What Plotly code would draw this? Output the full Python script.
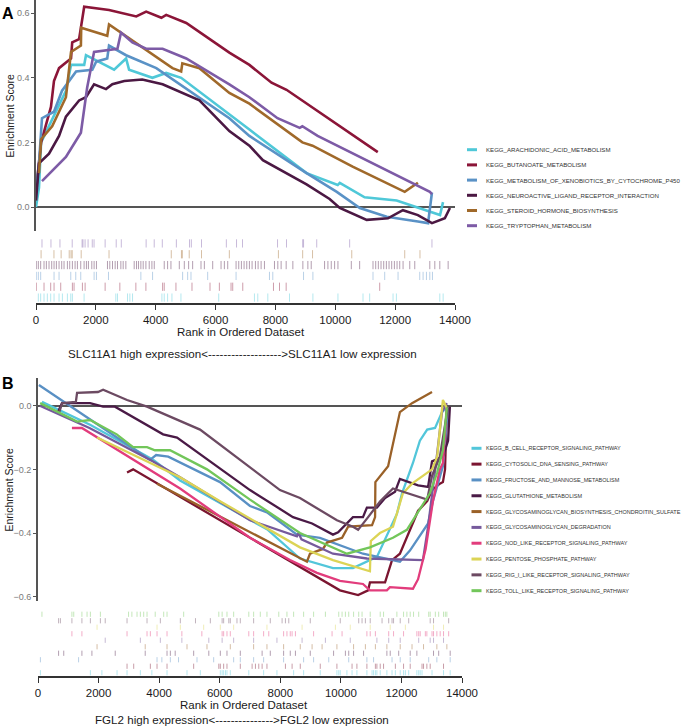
import plotly.graph_objects as go

W, H = 685, 727
FONT = "Liberation Sans, Arial, sans-serif"

def fx(px):
    return px / W

def fy(py):
    return 1 - py / H

# ---------------- Panel A data ----------------
A_names = ["KEGG_ARACHIDONIC_ACID_METABOLISM", "KEGG_BUTANOATE_METABOLISM",
           "KEGG_METABOLISM_OF_XENOBIOTICS_BY_CYTOCHROME_P450",
           "KEGG_NEUROACTIVE_LIGAND_RECEPTOR_INTERACTION",
           "KEGG_STEROID_HORMONE_BIOSYNTHESIS", "KEGG_TRYPTOPHAN_METABOLISM"]
A_colors = ["#4fc8d8", "#8b1538", "#5a92c6", "#4b1843", "#a0692a", "#7d5ba6"]

A_arach_x = [0, 100, 170, 700, 1000, 1170, 1610, 1670, 2210, 2610, 3010, 3110, 3890, 4350, 4850, 6460, 7130, 9040, 10080, 10150, 10980, 12050, 12990, 13500, 13600]
A_arach_y = [0.0, 0.06, 0.2, 0.3, 0.36, 0.44, 0.44, 0.47, 0.445, 0.425, 0.46, 0.425, 0.40, 0.415, 0.40, 0.285, 0.24, 0.105, 0.068, 0.075, 0.03, 0.02, -0.01, -0.025, 0.015]
A_butan_x = [0, 170, 500, 600, 770, 1170, 1210, 1440, 1610, 2440, 3350, 3680, 4190, 4350, 5020, 6460, 7130, 7870, 8370, 11420]
A_butan_y = [0.05, 0.2, 0.31, 0.39, 0.43, 0.46, 0.51, 0.52, 0.62, 0.61, 0.59, 0.605, 0.586, 0.595, 0.57, 0.478, 0.44, 0.385, 0.363, 0.17]
A_xeno_x = [0, 100, 200, 600, 870, 1340, 1880, 2010, 2380, 2440, 3010, 4020, 6460, 7130, 9040, 10050, 10820, 11720, 12760, 13100, 13230]
A_xeno_y = [0.05, 0.135, 0.275, 0.295, 0.36, 0.42, 0.425, 0.45, 0.46, 0.50, 0.47, 0.43, 0.275, 0.22, 0.105, 0.047, -0.003, -0.03, -0.045, -0.05, 0.045]
A_neuro_x = [0, 100, 435, 770, 1000, 1440, 1670, 1940, 2340, 2550, 2950, 3550, 4230, 5460, 6460, 7130, 7580, 9040, 9810, 10150, 11050, 11760, 12260, 12760, 13230, 13660, 13830]
A_neuro_y = [0.02, 0.135, 0.165, 0.22, 0.28, 0.33, 0.34, 0.38, 0.365, 0.38, 0.39, 0.395, 0.38, 0.33, 0.235, 0.19, 0.145, 0.07, 0.025, -0.003, -0.04, -0.035, -0.01, -0.025, -0.05, -0.035, -0.003]
A_ster_x = [100, 170, 540, 1000, 1170, 1500, 1510, 2380, 2440, 3450, 4560, 4850, 4890, 5460, 6460, 7130, 8900, 9240, 10580, 12320, 12760]
A_ster_y = [0.105, 0.21, 0.25, 0.34, 0.48, 0.50, 0.555, 0.53, 0.565, 0.50, 0.43, 0.42, 0.445, 0.43, 0.353, 0.32, 0.20, 0.19, 0.125, 0.047, 0.075]
A_tryp_x = [200, 1000, 1500, 1710, 1940, 2720, 2840, 3220, 3680, 4230, 5020, 6460, 7130, 8070, 8810, 8900, 9410, 13160, 13230]
A_tryp_y = [0.08, 0.155, 0.23, 0.37, 0.48, 0.49, 0.54, 0.51, 0.49, 0.49, 0.46, 0.38, 0.34, 0.275, 0.245, 0.25, 0.22, 0.047, 0.04]

A_hits_arach = [78, 156, 268, 379, 491, 603, 770, 882, 1049, 1161, 1216, 1607, 2667, 2723, 3058, 3136, 3225, 4207, 4285, 4397, 4542, 4843, 6105, 7299, 7410, 7745, 8470, 9252, 10089, 10926, 11149, 11930, 12042, 13492, 13604]
A_hits_butan = [10, 268, 491, 603, 826, 1216, 1272, 1551, 1641, 2310, 2801, 3337, 3672, 4230, 4285, 4676, 5212, 5814, 6127, 6517, 6573, 6908, 7935, 8136, 8359, 11484]
A_hits_xeno = [10, 78, 156, 603, 770, 1161, 1328, 1495, 1942, 2020, 2422, 3504, 3895, 4899, 5067, 5178, 5736, 6685, 7801, 7912, 8939, 9252, 11260, 11651, 12097, 12822, 12934, 13046, 13158, 13247]
A_hits_neuro = [10, 78, 156, 268, 346, 435, 525, 603, 681, 770, 859, 937, 1049, 1127, 1216, 1306, 1384, 1495, 1607, 1685, 1752, 1864, 1942, 2020, 2388, 2466, 2556, 2645, 2723, 2835, 2913, 3002, 3281, 3359, 3426, 3504, 3582, 3672, 3783, 3873, 3951, 4285, 4397, 4509, 4788, 4955, 5100, 5234, 5513, 5625, 5904, 6183, 6294, 6406, 6685, 6774, 6863, 6953, 7042, 7131, 7220, 7332, 7421, 7522, 7633, 7968, 8080, 8191, 8359, 8582, 8917, 9084, 9196, 9642, 9754, 9865, 9977, 10089, 10535, 10814, 11260, 11350, 11439, 11528, 11618, 11707, 11796, 11885, 11975, 12064, 12153, 12265, 12488, 12655, 13158, 13325, 13492, 13771]
A_hits_ster = [170, 600, 840, 1110, 1170, 1210, 1510, 2440, 4520, 4860, 4890, 5120, 5530, 6460, 8100, 8910, 9240, 10550, 12320, 12830]
A_hits_tryp = [200, 500, 800, 1210, 1540, 1570, 1640, 1740, 1880, 1940, 2310, 2680, 2850, 3680, 3950, 4220, 4690, 5130, 5190, 5530, 6360, 6700, 6900, 8070, 8370, 8910, 8940, 9380, 10480, 13230]

# ---------------- Panel B data ----------------
B_names = ["KEGG_B_CELL_RECEPTOR_SIGNALING_PATHWAY", "KEGG_CYTOSOLIC_DNA_SENSING_PATHWAY",
           "KEGG_FRUCTOSE_AND_MANNOSE_METABOLISM", "KEGG_GLUTATHIONE_METABOLISM",
           "KEGG_GLYCOSAMINOGLYCAN_BIOSYNTHESIS_CHONDROITIN_SULFATE",
           "KEGG_GLYCOSAMINOGLYCAN_DEGRADATION", "KEGG_NOD_LIKE_RECEPTOR_SIGNALING_PATHWAY",
           "KEGG_PENTOSE_PHOSPHATE_PATHWAY", "KEGG_RIG_I_LIKE_RECEPTOR_SIGNALING_PATHWAY",
           "KEGG_TOLL_LIKE_RECEPTOR_SIGNALING_PATHWAY"]
B_colors = ["#52c6da", "#7b1530", "#5990c4", "#4a1a46", "#9a6128",
            "#765a9c", "#e23c7c", "#dcd455", "#6c4a62", "#72c65a"]

B_bcell_x = [130, 1720, 3800, 4690, 7590, 8650, 9740, 10400, 11190, 11560, 11850, 12020, 12380, 12610, 12850, 13110, 13340, 13500]
B_bcell_y = [0.012, -0.06, -0.17, -0.235, -0.39, -0.48, -0.51, -0.51, -0.475, -0.40, -0.34, -0.275, -0.18, -0.11, -0.075, -0.07, -0.02, -0.005]
B_cyto_x = [2940, 3140, 9970, 10570, 10900, 10960, 11460, 11690, 11950, 12550, 12850, 13010, 13270, 13370, 13440, 13500]
B_cyto_y = [-0.21, -0.2, -0.58, -0.595, -0.58, -0.555, -0.555, -0.485, -0.465, -0.33, -0.30, -0.265, -0.245, -0.24, -0.2, -0.005]
B_fruc_x = [30, 3700, 3900, 4300, 6010, 7000, 7560, 8550, 9310, 10730, 11950, 12280, 12880, 13040, 13370, 13540]
B_fruc_y = [0.065, -0.17, -0.155, -0.16, -0.24, -0.315, -0.335, -0.405, -0.415, -0.465, -0.49, -0.455, -0.37, -0.30, -0.19, -0.005]
B_glut_x = [660, 790, 1720, 2150, 2540, 4130, 4590, 7000, 8420, 9050, 9740, 9910, 10400, 10730, 10860, 11190, 11460, 11790, 11950, 12550, 12880, 13010, 13370, 13540, 13600]
B_glut_y = [-0.02, 0.008, 0.008, -0.003, -0.003, -0.09, -0.1, -0.265, -0.35, -0.37, -0.405, -0.398, -0.35, -0.35, -0.32, -0.32, -0.29, -0.27, -0.23, -0.25, -0.255, -0.175, -0.16, -0.11, -0.003]
B_chond_x = [3930, 8880, 8980, 9410, 9540, 10040, 10240, 11030, 11130, 11140, 11560, 11950, 12350, 13010]
B_chond_y = [-0.245, -0.49, -0.465, -0.45, -0.43, -0.415, -0.38, -0.375, -0.35, -0.24, -0.19, -0.02, 0.008, 0.043]
B_degr_x = [60, 1700, 3800, 4690, 7000, 8550, 8600, 8700, 9740, 10860, 12710, 12880, 13180, 13340, 13500]
B_degr_y = [0.0, -0.07, -0.175, -0.225, -0.36, -0.41, -0.40, -0.42, -0.465, -0.48, -0.485, -0.38, -0.15, -0.02, 0.008]
B_nod_x = [1120, 1450, 4690, 7000, 8320, 9210, 9970, 10730, 10960, 11520, 11620, 12380, 12550, 12800, 13040, 13270, 13370, 13500]
B_nod_y = [-0.07, -0.07, -0.26, -0.415, -0.485, -0.525, -0.55, -0.56, -0.58, -0.58, -0.57, -0.575, -0.545, -0.45, -0.30, -0.2, -0.18, -0.005]
B_pent_x = [1950, 4690, 6010, 7000, 7660, 8650, 9740, 10960, 10990, 11290, 11720, 12050, 12350, 13010, 13180, 13340, 13370, 13500]
B_pent_y = [-0.1, -0.225, -0.3, -0.355, -0.39, -0.445, -0.485, -0.52, -0.425, -0.40, -0.38, -0.275, -0.245, -0.2, -0.16, 0.008, 0.018, -0.008]
B_rig_x = [700, 800, 1250, 1290, 1980, 2150, 2940, 3600, 5350, 7000, 7990, 8650, 9870, 10400, 10570, 10900, 11300, 11720, 12850, 13010, 13270, 13500, 13540]
B_rig_y = [-0.02, 0.008, 0.012, 0.04, 0.043, 0.05, 0.018, -0.003, -0.075, -0.195, -0.265, -0.29, -0.36, -0.38, -0.39, -0.35, -0.3, -0.26, -0.295, -0.22, -0.16, -0.025, -0.005]
B_toll_x = [70, 1290, 1720, 2600, 3140, 3600, 3860, 4360, 5580, 7000, 8650, 9740, 10200, 10960, 11720, 12180, 12450, 12940, 13180, 13370, 13500]
B_toll_y = [0.008, -0.05, -0.045, -0.09, -0.13, -0.13, -0.14, -0.14, -0.2, -0.295, -0.40, -0.445, -0.465, -0.445, -0.415, -0.39, -0.35, -0.275, -0.21, -0.14, -0.005]

B_hits_bcell = [80, 1730, 2110, 2610, 2940, 3380, 3760, 4260, 4920, 5360, 6020, 6080, 6130, 6190, 6240, 6350, 6960, 7450, 7890, 8440, 8770, 9320, 9870, 9930, 9980, 10200, 10370, 10530, 10860, 11030, 11080, 11140, 11190, 11300, 11520, 11690, 11800, 11960, 12070, 12130, 12240, 12510, 12570, 12620, 12680, 13010, 13390, 13610]
B_hits_cyto = [2940, 3160, 3710, 3930, 4260, 5140, 5970, 6020, 6130, 6240, 6680, 7070, 7180, 7290, 7400, 7560, 8170, 8390, 8660, 9320, 9870, 10370, 10530, 10860, 11140, 11190, 11300, 11410, 11800, 12070, 12290, 12680, 12730, 12840, 12950, 13390]
B_hits_fruc = [80, 1340, 3930, 4090, 4370, 4640, 5250, 5800, 6460, 6680, 7120, 7450, 8110, 8770, 9100, 9600, 10260, 10860, 11080, 11690, 11960, 12290, 12900, 13170, 13610]
B_hits_glut = [680, 850, 1450, 1780, 2550, 3540, 4260, 4370, 4530, 5140, 5640, 6020, 6240, 6680, 7400, 7670, 8110, 8330, 8500, 8990, 9760, 10150, 10260, 10420, 10750, 11520, 11630, 11910, 12290, 12510, 13060, 13230, 13610]
B_hits_chond = [1950, 3540, 4260, 4920, 5580, 6350, 7120, 7560, 8110, 8660, 9050, 9380, 9870, 10420, 10810, 11140, 11520, 11960, 12350, 12730, 13170, 13500]
B_hits_degr = [2220, 3380, 4040, 4750, 5640, 6080, 6460, 7120, 7890, 8720, 9490, 10310, 11190, 11580, 11960, 12570, 12950, 13060, 13390]
B_hits_nod = [1120, 1450, 2940, 3600, 3710, 3930, 4260, 4750, 5410, 6080, 6130, 6240, 6350, 6960, 7120, 7450, 7620, 8110, 8220, 8330, 8390, 8500, 9100, 9710, 10040, 10860, 10970, 11140, 11580, 11740, 12070, 12510, 12570, 12620, 12790, 12840, 13010, 13060, 13170, 13280, 13390, 13560]
B_hits_pent = [1950, 3930, 4700, 5470, 6020, 6460, 7560, 8720, 9820, 10310, 10970, 11630, 12130, 13060, 13390]
B_hits_rig = [680, 740, 1120, 1450, 1730, 2060, 2220, 2940, 3600, 4040, 4700, 5200, 5690, 6080, 6130, 6300, 6350, 6570, 6680, 7120, 7670, 8060, 8170, 8280, 8990, 9980, 10590, 10700, 10810, 10970, 11360, 11580, 11690, 11740, 11960, 12240, 12950, 13060, 13560]
B_hits_toll = [130, 1120, 1180, 1450, 1620, 1730, 2060, 2990, 3100, 3270, 3380, 3490, 3600, 3870, 4150, 4260, 4810, 5970, 6080, 6240, 6460, 6960, 7120, 7340, 7560, 7950, 8220, 8440, 8770, 9100, 9490, 9930, 10040, 10150, 10260, 10420, 10590, 10700, 10970, 11300, 11410, 11850, 12070, 12180, 12290, 12400, 12570, 12900, 12950, 13120, 13230, 13390, 13450, 13500]

x_ticks = [0, 2000, 4000, 6000, 8000, 10000, 12000, 14000]
A_yticks = [0.0, 0.2, 0.4, 0.6]
B_yticks = [0.0, -0.2, -0.4, -0.6]

A_subtitle = "SLC11A1 high expression&lt;" + "-" * 19 + "&gt;SLC11A1 low expression"
B_subtitle = "FGL2 high expression&lt;" + "-" * 15 + "&gt;FGL2 low expression"

A_curves = [(A_arach_x, A_arach_y), (A_butan_x, A_butan_y), (A_xeno_x, A_xeno_y),
            (A_neuro_x, A_neuro_y), (A_ster_x, A_ster_y), (A_tryp_x, A_tryp_y)]
A_hits = [A_hits_arach, A_hits_butan, A_hits_xeno, A_hits_neuro, A_hits_ster, A_hits_tryp]
B_curves = [(B_bcell_x, B_bcell_y), (B_cyto_x, B_cyto_y), (B_fruc_x, B_fruc_y),
            (B_glut_x, B_glut_y), (B_chond_x, B_chond_y), (B_degr_x, B_degr_y),
            (B_nod_x, B_nod_y), (B_pent_x, B_pent_y), (B_rig_x, B_rig_y), (B_toll_x, B_toll_y)]
B_hits = [B_hits_bcell, B_hits_cyto, B_hits_fruc, B_hits_glut, B_hits_chond,
          B_hits_degr, B_hits_nod, B_hits_pent, B_hits_rig, B_hits_toll]


def rgba(hexc, a):
    h = hexc.lstrip("#")
    return "rgba(%d,%d,%d,%.2f)" % (int(h[0:2], 16), int(h[2:4], 16), int(h[4:6], 16), a)


fig = go.Figure()

for (xs, ys), c in zip(A_curves, A_colors):
    fig.add_trace(go.Scatter(x=xs, y=ys, mode="lines", line=dict(color=c, width=2.6),
                             xaxis="x", yaxis="y", showlegend=False, hoverinfo="skip"))
for (xs, ys), c in zip(B_curves, B_colors):
    fig.add_trace(go.Scatter(x=xs, y=ys, mode="lines", line=dict(color=c, width=2.3),
                             xaxis="x3", yaxis="y3", showlegend=False, hoverinfo="skip"))


def rug(hits_list, colors, xa, ya, lo, hi, alpha):
    for i, (hits, c) in enumerate(zip(hits_list, colors)):
        xs, ys = [], []
        for r in hits:
            xs += [r, r, None]
            ys += [i + lo, i + hi, None]
        fig.add_trace(go.Scatter(x=xs, y=ys, mode="lines", line=dict(color=rgba(c, alpha), width=1),
                                 xaxis=xa, yaxis=ya, showlegend=False, hoverinfo="skip"))


rug(A_hits, A_colors, "x2", "y2", 0.12, 0.88, 0.42)
rug(B_hits, B_colors, "x4", "y4", 0.1, 0.9, 0.42)

A_xdom = [fx(36), fx(455)]
B_xdom = [fx(38), fx(462)]

hidden_x = dict(visible=False, range=[0, 14000], showgrid=False, zeroline=False, automargin=False)
rank_axis = dict(range=[0, 14000], showgrid=False, zeroline=False, showline=True, automargin=False,
                 linecolor="#333333", linewidth=1.5, ticks="outside", ticklen=5,
                 tickcolor="#333333", tickwidth=1.3, tickvals=x_ticks,
                 ticktext=[str(v) for v in x_ticks],
                 tickfont=dict(family=FONT, size=11.5, color="#1a1a1a"))
es_axis = dict(showgrid=False, showline=True, linecolor="#555555", linewidth=1.6, automargin=False,
               ticks="outside", ticklen=3, tickcolor="#555555", tickwidth=1,
               zeroline=True, zerolinecolor="#555555", zerolinewidth=1.5,
               tickfont=dict(family=FONT, size=9, color="#7a7a7a"))
hidden_y = dict(visible=False, showgrid=False, zeroline=False, automargin=False)

fig.update_layout(
    width=W, height=H, margin=dict(l=0, r=0, t=0, b=0, autoexpand=False),
    paper_bgcolor="white", plot_bgcolor="rgba(0,0,0,0)", showlegend=False,
    xaxis=dict(domain=A_xdom, anchor="y", **hidden_x),
    yaxis=dict(domain=[fy(231), fy(0)], range=[-0.0743, 0.641], anchor="x",
               tickvals=A_yticks, ticktext=["%.1f" % v for v in A_yticks], **es_axis),
    xaxis2=dict(domain=A_xdom, anchor="y2", **rank_axis),
    yaxis2=dict(domain=[fy(303), fy(238)], range=[0, len(A_hits)], anchor="x2", **hidden_y),
    xaxis3=dict(domain=B_xdom, anchor="y3", **hidden_x),
    yaxis3=dict(domain=[fy(601), fy(378)], range=[-0.6135, 0.087], anchor="x3",
                tickvals=B_yticks,
                ticktext=[("\u2212%.1f" % abs(v)) if v < 0 else "%.1f" % v for v in B_yticks],
                **es_axis),
    xaxis4=dict(domain=B_xdom, anchor="y4", **rank_axis),
    yaxis4=dict(domain=[fy(676), fy(611)], range=[0, len(B_hits)], anchor="x4", **hidden_y),
)

ann = []
shapes = []


def txt(x, y, s, size, color="#1a1a1a", xanchor="center", angle=0, bold=False, family=FONT):
    ann.append(dict(x=fx(x), y=fy(y), xref="paper", yref="paper", text=("<b>%s</b>" % s) if bold else s,
                    showarrow=False, xanchor=xanchor, yanchor="middle", textangle=angle,
                    font=dict(family=family, size=size, color=color)))


txt(7.5, 13, "A", 16, "#000", bold=True)
txt(8, 384, "B", 16, "#000", bold=True)
txt(9.5, 116, "Enrichment Score", 10.5, "#222", angle=-90)
txt(8.5, 490, "Enrichment Score", 10.5, "#222", angle=-90)
txt(241, 332, "Rank in Ordered Dataset", 11.5, "#1a1a1a")
txt(244, 705, "Rank in Ordered Dataset", 11.5, "#1a1a1a")
txt(242, 354, A_subtitle, 11.6, "#1a1a1a")
txt(242, 719, B_subtitle, 11.6, "#1a1a1a")

for i, (n, c) in enumerate(zip(A_names, A_colors)):
    y = 149.7 + i * 15.2
    shapes.append(dict(type="line", xref="paper", yref="paper", x0=fx(467), x1=fx(477), y0=fy(y), y1=fy(y),
                       line=dict(color=c, width=3)))
    txt(484, y, n, 6.1, "#333333", xanchor="left")
for i, (n, c) in enumerate(zip(B_names, B_colors)):
    y = 448.3 + i * 15.82
    shapes.append(dict(type="line", xref="paper", yref="paper", x0=fx(471.5), x1=fx(481.5), y0=fy(y), y1=fy(y),
                       line=dict(color=c, width=3)))
    txt(484, y, n, 5.5, "#333333", xanchor="left")

fig.update_layout(annotations=ann, shapes=shapes)
fig.write_html("out.html", config={"displayModeBar": False},
               post_script="document.body.style.margin='0';document.body.style.padding='0';")
